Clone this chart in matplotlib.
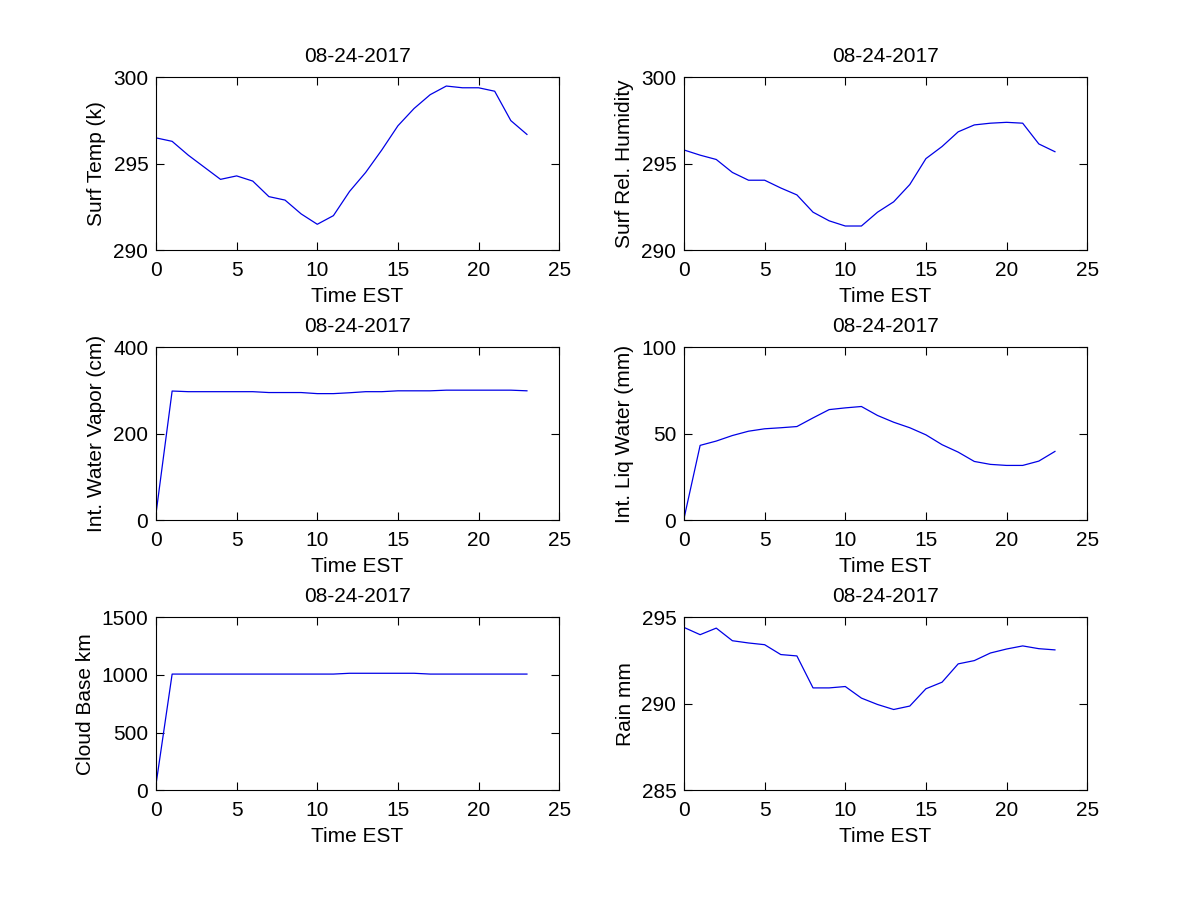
import matplotlib.pyplot as plt

plt.rcParams['font.family'] = ['Liberation Sans', 'DejaVu Sans']

hours = list(range(24))
date_str = '08-24-2017'

surf_temp = [296.5, 296.3, 295.5, 294.8, 294.1, 294.3, 294.0, 293.1, 292.9, 292.1,
             291.5, 292.0, 293.4, 294.5, 295.8, 297.2, 298.2, 299.0, 299.5, 299.4,
             299.4, 299.2, 297.5, 296.7]
surf_rh = [295.8, 295.5, 295.25, 294.5, 294.05, 294.05, 293.6, 293.2, 292.2, 291.7,
           291.4, 291.4, 292.2, 292.8, 293.8, 295.3, 296.0, 296.85, 297.25, 297.35,
           297.4, 297.35, 296.15, 295.7]
water_vapor = [15, 299, 297.5, 297.5, 297.5, 297.5, 297.5, 295.5, 295.5, 295.5,
               293, 293, 295, 297.5, 297.5, 299.5, 299.5, 299.5, 301, 301,
               301, 301, 301, 299.5]
liq_water = [1, 43.3, 45.8, 49.0, 51.5, 52.9, 53.5, 54.2, 59.2, 64.0,
             65.0, 65.8, 60.6, 56.7, 53.5, 49.4, 43.7, 39.4, 34.0, 32.3,
             31.7, 31.7, 34.2, 39.8]
cloud_base = [50, 1008, 1008, 1008, 1008, 1008, 1008, 1008, 1008, 1008,
              1008, 1008, 1015, 1015, 1015, 1015, 1015, 1008, 1008, 1008,
              1008, 1008, 1008, 1008]
rain = [294.42, 294.0, 294.38, 293.65, 293.52, 293.42, 292.85, 292.77, 290.92, 290.92,
        291.0, 290.33, 289.96, 289.67, 289.87, 290.87, 291.25, 292.31, 292.5, 292.94,
        293.17, 293.35, 293.19, 293.12]

panels = [
    (surf_temp, 'Surf Temp (k)', (290, 300), [290, 295, 300]),
    (surf_rh, 'Surf Rel. Humidity', (290, 300), [290, 295, 300]),
    (water_vapor, 'Int. Water Vapor (cm)', (0, 400), [0, 200, 400]),
    (liq_water, 'Int. Liq Water (mm)', (0, 100), [0, 50, 100]),
    (cloud_base, 'Cloud Base km', (0, 1500), [0, 500, 1000, 1500]),
    (rain, 'Rain mm', (285, 295), [285, 290, 295]),
]

lefts = [0.13, 0.57]
bottoms = [0.722, 0.422, 0.122]
w, h = 0.336, 0.192
fs = 15

fig = plt.figure(figsize=(12, 9), dpi=100)
fig.patch.set_facecolor('white')

for i, (vals, ylab, ylim, yticks) in enumerate(panels):
    ax = fig.add_axes([lefts[i % 2], bottoms[i // 2], w, h])
    ax.plot(hours, vals, color='#0000e6', linewidth=0.9)
    ax.set_xlim(0, 25)
    ax.set_xticks([0, 5, 10, 15, 20, 25])
    ax.set_ylim(*ylim)
    ax.set_yticks(yticks)
    ax.tick_params(direction='in', top=True, right=True, length=6, width=0.8,
                   labelsize=fs)
    ax.tick_params(axis='x', pad=8)
    ax.tick_params(axis='y', pad=5.5)
    ax.set_title(date_str, fontsize=fs, pad=11)
    ax.set_xlabel('Time EST', fontsize=fs, labelpad=5)
    ax.set_ylabel(ylab, fontsize=fs, labelpad=5)
    for s in ax.spines.values():
        s.set_linewidth(0.8)

plt.savefig('out.png', dpi=100, facecolor='white')
